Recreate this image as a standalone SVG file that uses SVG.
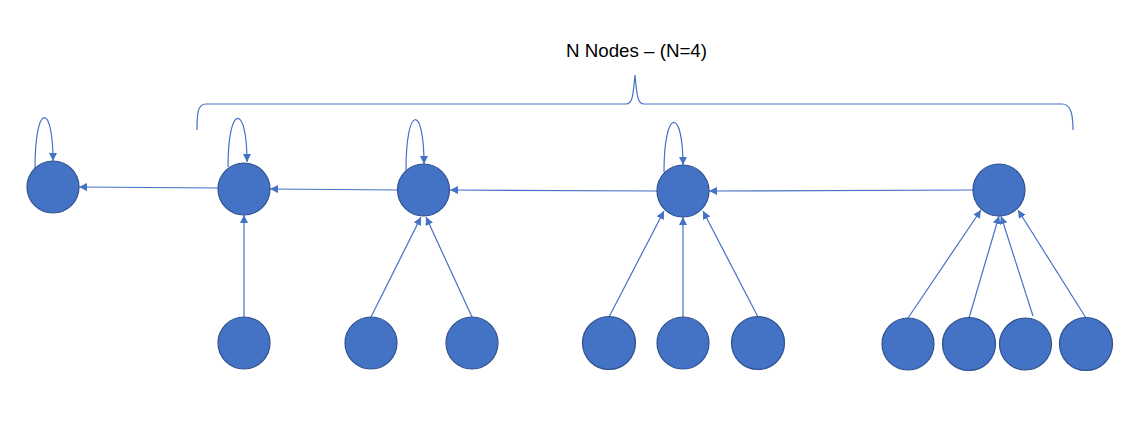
<svg xmlns="http://www.w3.org/2000/svg" width="1143" height="447" viewBox="0 0 1143 447">
<defs>
<style>
.node{fill:#4472C4;stroke:#2F528F;stroke-width:1.2}
.edge{fill:none;stroke:#4472C4;stroke-width:1.2;marker-end:url(#ah)}
.brace{fill:none;stroke:#4472C4;stroke-width:1.2}
.lbl{font-family:"Liberation Sans",Arial,sans-serif;font-size:18.5px;fill:#000}
</style>
<marker id="ah" viewBox="0 0 10 10" refX="10" refY="5" markerWidth="8" markerHeight="8" markerUnits="userSpaceOnUse" orient="auto">
<path d="M0,0 L10,5 L0,10 z" fill="#4472C4"/>
</marker>
</defs>
<rect width="1143" height="447" fill="#fff"/>
<text class="lbl" x="636.5" y="57" text-anchor="middle" textLength="141" lengthAdjust="spacingAndGlyphs">N Nodes – (N=4)</text>
<path class="brace" d="M197,130 C197,112 198,104 206,104 L626,104 C632,104 633,98 635,75 C637,98 638,104 644,104 L1062,104 C1070,104 1073,112 1073,130"/>
<g id="connectors">
<path class="edge" d="M973,190 L709,191"/>
<path class="edge" d="M657,191 L450,190"/>
<path class="edge" d="M397,190 L270,189"/>
<path class="edge" d="M218,188 L79,187"/>
<path class="edge" d="M244,317 L244,215"/>
<path class="edge" d="M371,317 L421,217"/>
<path class="edge" d="M472,317 L426,217"/>
<path class="edge" d="M609,317 L664,211"/>
<path class="edge" d="M683,317 L683,217"/>
<path class="edge" d="M758,317 L703,211"/>
<path class="edge" d="M908,318 L981,210"/>
<path class="edge" d="M969,318 L999,216"/>
<path class="edge" d="M1033,316 L1001,216"/>
<path class="edge" d="M1086,318 L1018,210"/>
<path class="edge" d="M35,168 C35,102 53,102 53,161"/>
<path class="edge" d="M228,167 C228,103 247,103 247,162"/>
<path class="edge" d="M406,170 C406,104 424,104 424,164"/>
<path class="edge" d="M664,172 C664,107 683,107 683,165"/>
</g>
<g id="n_a"><circle class="node" cx="53" cy="187" r="26"/></g>
<g id="n_b"><circle class="node" cx="244" cy="189" r="26"/></g>
<g id="n_c"><circle class="node" cx="423.5" cy="190" r="26"/></g>
<g id="n_d"><circle class="node" cx="683" cy="191" r="26"/></g>
<g id="n_e"><circle class="node" cx="999" cy="190" r="26"/></g>
<g id="n_b1"><circle class="node" cx="244" cy="343" r="26"/></g>
<g id="n_c1"><circle class="node" cx="371" cy="343" r="26"/></g>
<g id="n_c2"><circle class="node" cx="472" cy="343" r="26"/></g>
<g id="n_d1"><circle class="node" cx="609" cy="343" r="26.5"/></g>
<g id="n_d2"><circle class="node" cx="683" cy="343" r="26"/></g>
<g id="n_d3"><circle class="node" cx="758" cy="343" r="26.5"/></g>
<g id="n_e1"><circle class="node" cx="908" cy="344" r="26"/></g>
<g id="n_e2"><circle class="node" cx="969" cy="344" r="26.5"/></g>
<g id="n_e3"><circle class="node" cx="1025.5" cy="344" r="26"/></g>
<g id="n_e4"><circle class="node" cx="1086" cy="344" r="26.5"/></g>
</svg>
